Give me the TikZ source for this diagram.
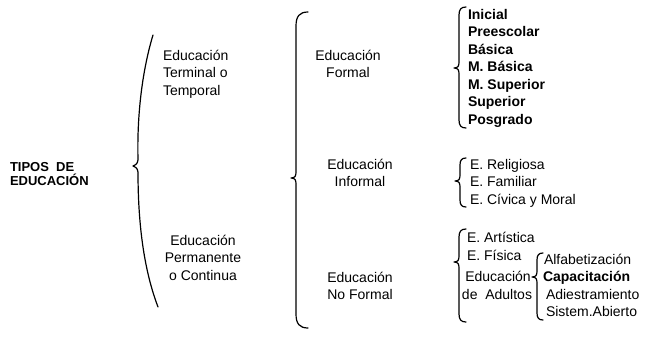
\documentclass[tikz,border=0pt]{standalone}
\usepackage{fontspec}
\setmainfont{Liberation Sans}
\newcommand\drawcbrace[6]{% x, ytop, ytip, ybottom, hook width, hook height
  \draw[brc] ({#1+#5},#2) .. controls ({#1+0.3*#5},#2) and (#1,{#2+0.3*#6}) .. (#1,{#2+#6})
    -- (#1,{#3-6}) .. controls (#1,{#3-2}) and ({#1-1},#3) .. ({#1-5},#3)
    .. controls ({#1-1},#3) and (#1,{#3+2}) .. (#1,{#3+6})
    -- (#1,{#4-#6}) .. controls (#1,{#4-0.3*#6}) and ({#1+0.3*#5},#4) .. ({#1+#5},#4);}
\begin{document}
\begin{tikzpicture}[x=1pt,y=-1pt,
  txt/.style={font=\fontsize{14}{17}\selectfont, inner sep=0pt, outer sep=0pt},
  txtb/.style={font=\fontsize{14}{17}\selectfont\bfseries, inner sep=0pt, outer sep=0pt},
  root/.style={font=\fontsize{13}{15}\selectfont\bfseries, inner sep=0pt, outer sep=0pt},
  brc/.style={line width=1.2pt, line cap=round, line join=round}]
\useasboundingbox (0,0) rectangle (650,340);

% root
\node[root,anchor=base west] (r1) at (10,171) {TIPOS\ \ DE};
\node[root,anchor=base west] (r2) at (10,185) {EDUCACIÓN};

% first brace (parenthesis-like)
\draw[brc] (153,35) .. controls (141,75) and (137,120) .. (138,160)
  .. controls (137,164) .. (133,166) .. controls (137,168) .. (138,172)
  .. controls (138,215) and (142,265) .. (158,307);

% level 1
\node[txt,anchor=base west] (t1) at (163,60) {Educación};
\node[txt,anchor=base west] (t2) at (163,77.5) {Terminal o};
\node[txt,anchor=base west] (t3) at (163,95) {Temporal};
\node[txt,anchor=base] (p1) at (203,245) {Educación};
\node[txt,anchor=base] (p2) at (203,262.5) {Permanente};
\node[txt,anchor=base] (p3) at (203,280) {o Continua};

% second brace
\drawcbrace{296}{12}{178}{328}{12}{14}

% level 2
\node[txt,anchor=base] (fo1) at (348,60) {Educación};
\node[txt,anchor=base] (fo2) at (348,77.5) {Formal};
\node[txt,anchor=base] (in1) at (360,169) {Educación};
\node[txt,anchor=base] (in2) at (360,186) {Informal};
\node[txt,anchor=base] (nf1) at (360,282) {Educación};
\node[txt,anchor=base] (nf2) at (360,299) {No Formal};

% formal list
\drawcbrace{459}{7}{68}{128}{7}{8}
\foreach \t [count=\i] in {Inicial,Preescolar,Básica,M. Básica,M. Superior,Superior,Posgrado}
  \node[txtb,anchor=base west] (f\i) at (468,{1.5+17.5*\i}) {\t};

% informal list
\drawcbrace{460}{158}{181}{207}{6}{7}
\node[txt,anchor=base west] (i1) at (470,169) {E. Religiosa};
\node[txt,anchor=base west] (i2) at (470,186) {E. Familiar};
\node[txt,anchor=base west] (i3) at (470,204) {E. Cívica y Moral};

% no formal list
\drawcbrace{459}{229}{262}{322}{7}{8}
\node[txt,anchor=base west] (n1) at (467,242) {E. Artística};
\node[txt,anchor=base west] (n2) at (467,260) {E. Física};
\node[txt,anchor=base] (a1) at (498,281) {Educación};
\node[txt,anchor=base] (a2) at (497,299) {de\ \ Adultos};

% adults list
\drawcbrace{537}{253}{277}{320}{6}{7}
\node[txt,anchor=base west] (d1) at (544,264) {Alfabetización};
\node[txtb,anchor=base west] (d2) at (543,281) {Capacitación};
\node[txt,anchor=base west] (d3) at (546,299) {Adiestramiento};
\node[txt,anchor=base west] (d4) at (546,316) {Sistem.Abierto};
\end{tikzpicture}
\end{document}
